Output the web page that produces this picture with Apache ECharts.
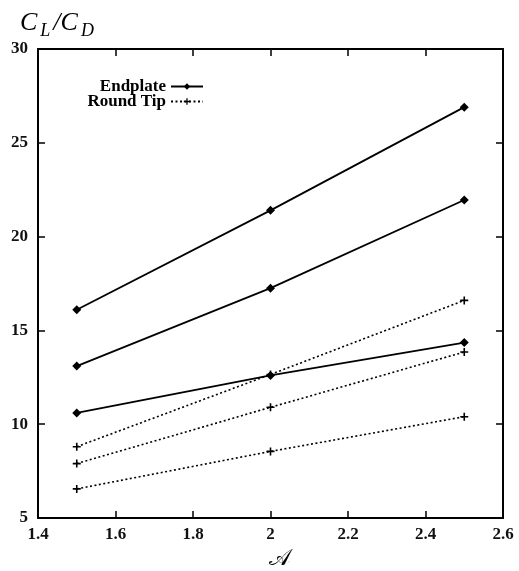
<!DOCTYPE html>
<html>
<head>
<meta charset="utf-8">
<script src="https://cdn.jsdelivr.net/npm/echarts@6/dist/echarts.min.js"></script>
<style>
  html, body { margin: 0; padding: 0; background: #fff; }
  #chart { width: 519px; height: 571px; }
</style>
</head>
<body>
<div id="chart"></div>
<script>
// Aspect ratio values at which the lift-to-drag ratio was measured
const aspectRatios = [1.5, 2, 2.5];

// Endplate wing tips (three configurations)
const endplateHigh = [16.1, 21.4, 26.9];
const endplateMid = [13.1, 17.25, 21.95];
const endplateLow = [10.6, 12.6, 14.35];

// Round wing tips (three configurations)
const roundTipHigh = [8.8, 12.65, 16.6];
const roundTipMid = [7.9, 10.9, 13.85];
const roundTipLow = [6.55, 8.55, 10.4];

// Axis ranges
const xTicks = [1.4, 1.6, 1.8, 2, 2.2, 2.4, 2.6];
const yTicks = [5, 10, 15, 20, 25, 30];

const SERIF = '"Liberation Serif", "DejaVu Serif", serif';
const PLUS = 'path://M4,0H6V4H10V6H6V10H4V6H0V4H4Z';

function pairs(values) {
  return aspectRatios.map((x, i) => [x, values[i]]);
}

function endplateSeries(values) {
  return {
    name: 'Endplate',
    type: 'line',
    data: pairs(values),
    symbol: 'diamond',
    symbolSize: 9,
    showAllSymbol: true,
    lineStyle: { color: '#000', width: 1.8, type: 'solid' },
    itemStyle: { color: '#000' },
    emphasis: { disabled: true },
    z: 3
  };
}

function roundTipSeries(values) {
  return {
    name: 'Round Tip',
    type: 'line',
    data: pairs(values),
    symbol: PLUS,
    symbolSize: 8,
    showAllSymbol: true,
    lineStyle: { color: '#000', width: 1.6, type: [2, 2.5] },
    itemStyle: { color: '#000' },
    emphasis: { disabled: true },
    z: 2
  };
}

const tickLabel = {
  fontFamily: SERIF,
  fontSize: 17,
  fontWeight: 'bold',
  color: '#111'
};

const legendText = { fontFamily: SERIF, fontSize: 17, fontWeight: 'bold', color: '#000' };

const frameLine = { show: true, lineStyle: { color: '#000', width: 2 } };
const innerTicks = { show: true, inside: true, length: 7, lineStyle: { color: '#000', width: 1.5 } };

const chart = echarts.init(document.getElementById('chart'), null, { renderer: 'canvas' });

chart.setOption({
  animation: false,
  backgroundColor: '#fff',
  title: {
    left: 20,
    top: 10,
    padding: 0,
    text: '{c|C}{s|L}{c|/C}{s|D}',
    textStyle: {
      fontWeight: 'normal',
      rich: {
        c: { fontFamily: SERIF, fontStyle: 'italic', fontWeight: 'normal', fontSize: 26, color: '#000', verticalAlign: 'bottom', padding: [0, 3, 4, 0] },
        s: { fontFamily: SERIF, fontStyle: 'italic', fontWeight: 'normal', fontSize: 18, color: '#000', verticalAlign: 'bottom', padding: [0, 3, 0, 0] }
      }
    }
  },
  legend: [
    {
      data: ['Endplate'],
      orient: 'vertical',
      align: 'right',
      right: 315,
      top: 78,
      padding: 0,
      itemWidth: 32,
      itemHeight: 8,
      selectedMode: false,
      textStyle: legendText
    },
    {
      data: ['Round Tip'],
      orient: 'vertical',
      align: 'right',
      right: 315,
      top: 93,
      padding: 0,
      itemWidth: 32,
      itemHeight: 8,
      selectedMode: false,
      textStyle: legendText
    }
  ],
  grid: { left: 38, right: 16, top: 49, bottom: 53, containLabel: false, outerBoundsMode: 'none' },
  xAxis: [
    {
      type: 'value',
      position: 'bottom',
      min: xTicks[0],
      max: xTicks[xTicks.length - 1],
      interval: 0.2,
      name: '𝒜',
      nameLocation: 'middle',
      nameGap: 30,
      nameTextStyle: { fontFamily: '"DejaVu Serif", "DejaVu Sans", serif', fontSize: 23, color: '#000', padding: [0, 0, 0, 18] },
      axisLine: frameLine,
      axisTick: innerTicks,
      axisLabel: Object.assign({ margin: 8 }, tickLabel),
      splitLine: { show: false }
    },
    {
      type: 'value',
      position: 'top',
      min: xTicks[0],
      max: xTicks[xTicks.length - 1],
      interval: 0.2,
      axisLine: frameLine,
      axisTick: innerTicks,
      axisLabel: { show: false },
      splitLine: { show: false }
    }
  ],
  yAxis: [
    {
      type: 'value',
      position: 'left',
      min: yTicks[0],
      max: yTicks[yTicks.length - 1],
      interval: 5,
      axisLine: frameLine,
      axisTick: innerTicks,
      axisLabel: Object.assign({ margin: 10 }, tickLabel),
      splitLine: { show: false }
    },
    {
      type: 'value',
      position: 'right',
      min: yTicks[0],
      max: yTicks[yTicks.length - 1],
      interval: 5,
      axisLine: frameLine,
      axisTick: innerTicks,
      axisLabel: { show: false },
      splitLine: { show: false }
    }
  ],
  series: [
    endplateSeries(endplateHigh),
    endplateSeries(endplateMid),
    endplateSeries(endplateLow),
    roundTipSeries(roundTipHigh),
    roundTipSeries(roundTipMid),
    roundTipSeries(roundTipLow)
  ]
});
</script>
</body>
</html>
